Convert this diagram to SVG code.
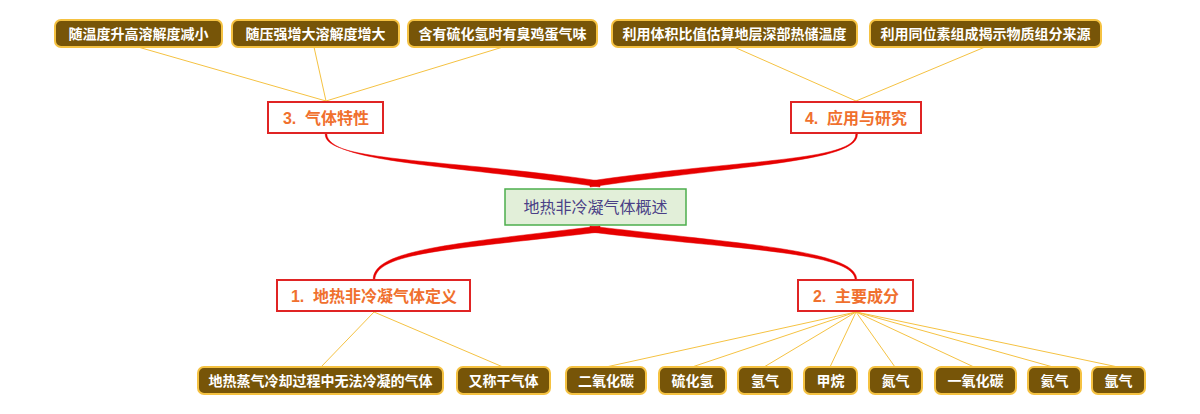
<svg xmlns="http://www.w3.org/2000/svg" width="1200" height="414" viewBox="0 0 1200 414">
<style>
text{font-family:"Liberation Sans","Noto Sans CJK SC",sans-serif;text-anchor:middle;dominant-baseline:central}
.root rect{fill:#e2efd9;stroke:#4cae4c;stroke-width:1.5}
.root text{fill:#4a3f86;font-size:16px}
.topic rect{fill:#ffffff;stroke:#e02424;stroke-width:2}
.topic text{fill:#f0702e;font-size:16px;font-weight:bold}
.leaf rect{fill:#775508;stroke:#f5c242;stroke-width:2}
.leaf text{fill:#ffffff;font-size:14px;font-weight:bold}
.thin{stroke:#f5c242;stroke-width:1;fill:none}
.thick{fill:#e60000;stroke:#e60000;stroke-width:0.5}
</style>
<rect width="1200" height="414" fill="#ffffff"/>
<g id="connectors">
<path class="thick" d="M600,181 C450,159 324.5,162 325.2,134 L326.8,134 C327.5,162 450,165 600,187 Z"/>
<path class="thick" d="M590,181 C740,159 856.5,162 855.8,134 L857.4,134 C858.5,162 740,165 590,187 Z"/>
<path class="thick" d="M600,226 C450,244 372.5,250 373.2,280 L374.8,280 C375.5,252 450,250 600,232 Z"/>
<path class="thick" d="M590,226 C740,244 857.5,250 856.8,280 L855.2,280 C854.5,252 740,250 590,232 Z"/>
<line class="thin" x1="326" y1="101" x2="138" y2="47"/>
<line class="thin" x1="326" y1="101" x2="314" y2="47"/>
<line class="thin" x1="326" y1="101" x2="503" y2="47"/>
<line class="thin" x1="856" y1="101" x2="734" y2="47"/>
<line class="thin" x1="856" y1="101" x2="985" y2="47"/>
<line class="thin" x1="374" y1="312" x2="321" y2="367"/>
<line class="thin" x1="374" y1="312" x2="503" y2="367"/>
<line class="thin" x1="856" y1="312" x2="606" y2="367"/>
<line class="thin" x1="856" y1="312" x2="692" y2="367"/>
<line class="thin" x1="856" y1="312" x2="764" y2="367"/>
<line class="thin" x1="856" y1="312" x2="830" y2="367"/>
<line class="thin" x1="856" y1="312" x2="895" y2="367"/>
<line class="thin" x1="856" y1="312" x2="974" y2="367"/>
<line class="thin" x1="856" y1="312" x2="1053" y2="367"/>
<line class="thin" x1="856" y1="312" x2="1118" y2="367"/>
</g>
<g id="root" class="root"><rect x="505" y="189" width="181" height="36"/><text x="595.5" y="207">地热非冷凝气体概述</text></g>
<g id="t3" class="topic"><rect x="268" y="102" width="115" height="31"/><text x="326" y="118">3.&#160;&#160;气体特性</text></g>
<g id="t4" class="topic"><rect x="791" y="102" width="130" height="31"/><text x="856" y="118">4.&#160;&#160;应用与研究</text></g>
<g id="t1" class="topic"><rect x="277" y="280" width="193" height="31"/><text x="374" y="296">1.&#160;&#160;地热非冷凝气体定义</text></g>
<g id="t2" class="topic"><rect x="798" y="280" width="115" height="31"/><text x="856" y="296">2.&#160;&#160;主要成分</text></g>
<g id="n31" class="leaf"><rect x="55" y="20" width="167" height="27" rx="6"/><text x="138.5" y="33.5">随温度升高溶解度减小</text></g>
<g id="n32" class="leaf"><rect x="232" y="20" width="167" height="27" rx="6"/><text x="315.5" y="33.5">随压强增大溶解度增大</text></g>
<g id="n33" class="leaf"><rect x="408" y="20" width="189" height="27" rx="6"/><text x="502.5" y="33.5">含有硫化氢时有臭鸡蛋气味</text></g>
<g id="n41" class="leaf"><rect x="612" y="20" width="245" height="27" rx="6"/><text x="734.5" y="33.5">利用体积比值估算地层深部热储温度</text></g>
<g id="n42" class="leaf"><rect x="870" y="20" width="231" height="27" rx="6"/><text x="985.5" y="33.5">利用同位素组成揭示物质组分来源</text></g>
<g id="n11" class="leaf"><rect x="198" y="367" width="245" height="27" rx="6"/><text x="320.5" y="380.5">地热蒸气冷却过程中无法冷凝的气体</text></g>
<g id="n12" class="leaf"><rect x="457" y="367" width="93" height="27" rx="6"/><text x="503.5" y="380.5">又称干气体</text></g>
<g id="n21" class="leaf"><rect x="566" y="367" width="80" height="27" rx="6"/><text x="606" y="380.5">二氧化碳</text></g>
<g id="n22" class="leaf"><rect x="659" y="367" width="67" height="27" rx="6"/><text x="692.5" y="380.5">硫化氢</text></g>
<g id="n23" class="leaf"><rect x="738" y="367" width="54" height="27" rx="6"/><text x="765" y="380.5">氢气</text></g>
<g id="n24" class="leaf"><rect x="804" y="367" width="53" height="27" rx="6"/><text x="830.5" y="380.5">甲烷</text></g>
<g id="n25" class="leaf"><rect x="869" y="367" width="53" height="27" rx="6"/><text x="895.5" y="380.5">氮气</text></g>
<g id="n26" class="leaf"><rect x="935" y="367" width="81" height="27" rx="6"/><text x="975.5" y="380.5">一氧化碳</text></g>
<g id="n27" class="leaf"><rect x="1028" y="367" width="53" height="27" rx="6"/><text x="1054.5" y="380.5">氦气</text></g>
<g id="n28" class="leaf"><rect x="1092" y="367" width="53" height="27" rx="6"/><text x="1118.5" y="380.5">氩气</text></g>
</svg>
